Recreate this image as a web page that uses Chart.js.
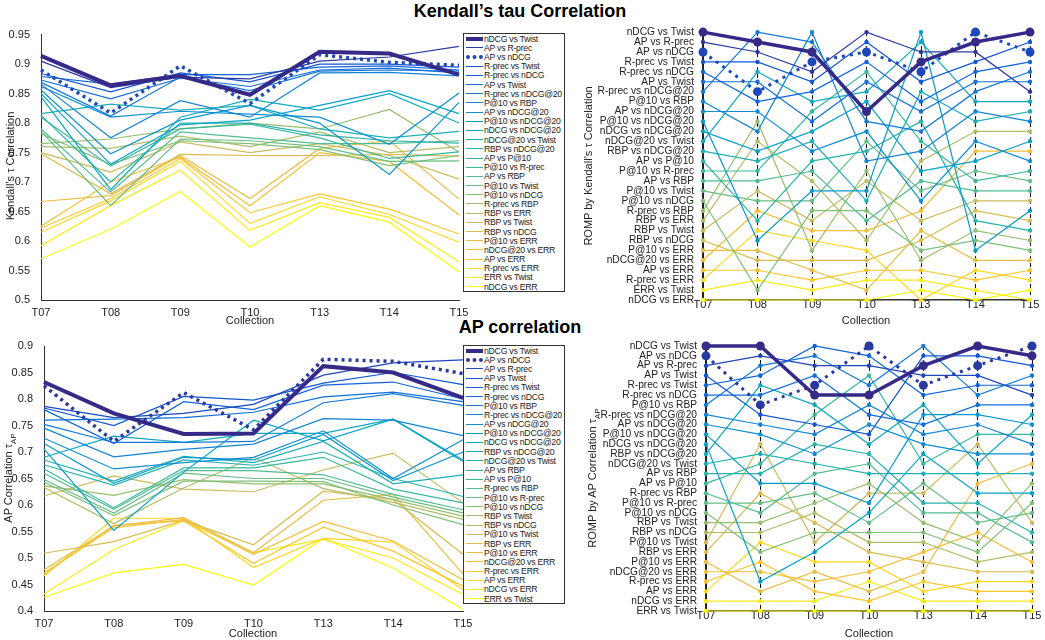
<!DOCTYPE html>
<html>
<head>
<meta charset="utf-8">
<script src="https://cdn.jsdelivr.net/npm/chart.js@4.4.1/dist/chart.umd.min.js"></script>
<style>
  body { margin: 0; background: #fff; font-family: 'Liberation Sans', Arial, sans-serif; color: #222; }
  #page { position: relative; width: 1045px; height: 640px; overflow: hidden; }
  canvas { position: absolute; }
  .title { position: absolute; width: 400px; text-align: center; font-weight: bold; font-size: 18px; color: #000; }
  .ylab { position: absolute; font-size: 11px; white-space: nowrap; transform: translate(-50%, -50%) rotate(-90deg); }
  .xlab { position: absolute; font-size: 11px; white-space: nowrap; transform: translate(-50%, -50%); }
  .legend { position: absolute; border: 1px solid #333; background: #fff; font-size: 8.7px; letter-spacing: -0.25px; padding: 0 2px 0 2px; }
  .legend .row { display: flex; align-items: center; height: 9.2px; white-space: nowrap; }
  .legend .smp { width: 17px; margin-right: 1px; }
</style>
</head>
<body>
<div id="page">
  <div class="title" style="left:320px; top:1px;">Kendall’s tau Correlation</div>
  <div class="title" style="left:320px; top:317px;">AP correlation</div>

  <canvas id="kLeft" width="480" height="302" style="left:0; top:25px;"></canvas>
  <canvas id="kRomp" width="470" height="302" style="left:575px; top:25px;"></canvas>
  <canvas id="aLeft" width="480" height="305" style="left:0; top:335px;"></canvas>
  <canvas id="aRomp" width="470" height="305" style="left:575px; top:335px;"></canvas>

  <div class="ylab" style="left:10px; top:166px;">Kendall’s τ Correlation</div>
  <div class="ylab" style="left:588px; top:166px;">ROMP by Kendall’s τ Correlation</div>
  <div class="ylab" style="left:10px; top:478px;">AP Correlation τ<sub style="font-size:8px">AP</sub></div>
  <div class="ylab" style="left:594px; top:478px;">ROMP by AP Correlation τ<sub style="font-size:8px">AP</sub></div>

  <div class="xlab" style="left:250px; top:320px;">Collection</div>
  <div class="xlab" style="left:866px; top:320px;">Collection</div>
  <div class="xlab" style="left:253px; top:633px;">Collection</div>
  <div class="xlab" style="left:869px; top:633px;">Collection</div>

  <div class="legend" id="kLegend" style="left:463px; top:33px; width:96px;"></div>
  <div class="legend" id="aLegend" style="left:463px; top:345px; width:96px;"></div>
</div>

<script>
const collections = ['T07', 'T08', 'T09', 'T10', 'T13', 'T14', 'T15'];

// measure pairs, ordered as in the legend (by T07 value)
const kendallPairs = [
  'nDCG vs Twist', 'AP vs R-prec', 'AP vs nDCG', 'R-prec vs Twist', 'R-prec vs nDCG',
  'AP vs Twist', 'R-prec vs nDCG@20', 'P@10 vs RBP', 'AP vs nDCG@20', 'P@10 vs nDCG@20',
  'nDCG vs nDCG@20', 'nDCG@20 vs Twist', 'RBP vs nDCG@20', 'AP vs P@10', 'P@10 vs R-prec',
  'AP vs RBP', 'P@10 vs Twist', 'P@10 vs nDCG', 'R-prec vs RBP', 'RBP vs ERR',
  'RBP vs Twist', 'RBP vs nDCG', 'P@10 vs ERR', 'nDCG@20 vs ERR', 'AP vs ERR',
  'R-prec vs ERR', 'ERR vs Twist', 'nDCG vs ERR'
];

const apPairs = [
  'nDCG vs Twist', 'AP vs nDCG', 'AP vs R-prec', 'AP vs Twist', 'R-prec vs Twist',
  'R-prec vs nDCG', 'P@10 vs RBP', 'R-prec vs nDCG@20', 'AP vs nDCG@20', 'P@10 vs nDCG@20',
  'nDCG vs nDCG@20', 'RBP vs nDCG@20', 'nDCG@20 vs Twist', 'AP vs RBP', 'AP vs P@10',
  'R-prec vs RBP', 'P@10 vs R-prec', 'P@10 vs nDCG', 'RBP vs Twist', 'RBP vs nDCG',
  'P@10 vs Twist', 'RBP vs ERR', 'P@10 vs ERR', 'nDCG@20 vs ERR', 'R-prec vs ERR',
  'AP vs ERR', 'nDCG vs ERR', 'ERR vs Twist'
];

// Kendall's tau per pair, one row per pair, one value per collection
const kendallTau = [
  [0.914, 0.864, 0.880, 0.848, 0.921, 0.918, 0.882],
  [0.905, 0.860, 0.878, 0.875, 0.905, 0.912, 0.930],
  [0.890, 0.817, 0.897, 0.833, 0.916, 0.903, 0.898],
  [0.884, 0.853, 0.885, 0.870, 0.900, 0.900, 0.895],
  [0.879, 0.866, 0.882, 0.882, 0.895, 0.897, 0.890],
  [0.873, 0.841, 0.876, 0.862, 0.890, 0.893, 0.885],
  [0.869, 0.812, 0.878, 0.855, 0.888, 0.890, 0.888],
  [0.866, 0.775, 0.838, 0.810, 0.885, 0.886, 0.880],
  [0.862, 0.810, 0.820, 0.815, 0.810, 0.764, 0.851],
  [0.856, 0.748, 0.805, 0.830, 0.800, 0.713, 0.835],
  [0.850, 0.730, 0.797, 0.805, 0.830, 0.855, 0.816],
  [0.845, 0.687, 0.810, 0.840, 0.822, 0.850, 0.800],
  [0.816, 0.832, 0.822, 0.830, 0.790, 0.775, 0.786],
  [0.813, 0.700, 0.800, 0.800, 0.780, 0.770, 0.766],
  [0.810, 0.727, 0.790, 0.798, 0.775, 0.740, 0.751],
  [0.790, 0.683, 0.785, 0.775, 0.765, 0.765, 0.770],
  [0.786, 0.660, 0.773, 0.770, 0.760, 0.735, 0.736],
  [0.782, 0.730, 0.770, 0.765, 0.755, 0.728, 0.745],
  [0.765, 0.773, 0.790, 0.800, 0.790, 0.823, 0.751],
  [0.760, 0.757, 0.778, 0.760, 0.785, 0.750, 0.760],
  [0.750, 0.717, 0.768, 0.750, 0.765, 0.745, 0.705],
  [0.748, 0.680, 0.747, 0.745, 0.745, 0.747, 0.744],
  [0.667, 0.677, 0.745, 0.672, 0.757, 0.770, 0.671],
  [0.625, 0.700, 0.742, 0.660, 0.750, 0.735, 0.644],
  [0.622, 0.672, 0.740, 0.648, 0.680, 0.654, 0.612],
  [0.615, 0.668, 0.735, 0.630, 0.675, 0.645, 0.598],
  [0.592, 0.660, 0.720, 0.618, 0.665, 0.640, 0.565],
  [0.570, 0.620, 0.684, 0.590, 0.660, 0.632, 0.548]
];

// AP correlation per pair
const apTau = [
  [0.832, 0.773, 0.734, 0.735, 0.862, 0.850, 0.802],
  [0.825, 0.720, 0.812, 0.742, 0.875, 0.871, 0.848],
  [0.786, 0.765, 0.773, 0.790, 0.845, 0.868, 0.874],
  [0.783, 0.750, 0.805, 0.798, 0.830, 0.850, 0.827],
  [0.780, 0.716, 0.795, 0.780, 0.826, 0.832, 0.800],
  [0.760, 0.762, 0.765, 0.775, 0.804, 0.813, 0.795],
  [0.752, 0.718, 0.718, 0.720, 0.793, 0.810, 0.788],
  [0.745, 0.691, 0.705, 0.715, 0.763, 0.760, 0.731],
  [0.726, 0.668, 0.680, 0.690, 0.740, 0.650, 0.723],
  [0.716, 0.641, 0.690, 0.685, 0.733, 0.646, 0.700],
  [0.706, 0.552, 0.662, 0.760, 0.721, 0.762, 0.685],
  [0.690, 0.730, 0.718, 0.735, 0.735, 0.762, 0.682],
  [0.685, 0.645, 0.692, 0.680, 0.720, 0.640, 0.657],
  [0.676, 0.637, 0.685, 0.675, 0.700, 0.650, 0.616],
  [0.668, 0.595, 0.670, 0.670, 0.690, 0.630, 0.604],
  [0.660, 0.592, 0.665, 0.665, 0.657, 0.620, 0.591],
  [0.648, 0.585, 0.660, 0.650, 0.650, 0.615, 0.585],
  [0.643, 0.580, 0.645, 0.645, 0.644, 0.600, 0.563],
  [0.636, 0.618, 0.648, 0.640, 0.640, 0.610, 0.579],
  [0.633, 0.565, 0.632, 0.690, 0.631, 0.605, 0.573],
  [0.617, 0.655, 0.630, 0.625, 0.666, 0.698, 0.604],
  [0.509, 0.531, 0.571, 0.525, 0.626, 0.610, 0.507],
  [0.478, 0.560, 0.576, 0.510, 0.609, 0.620, 0.470],
  [0.472, 0.557, 0.573, 0.507, 0.569, 0.532, 0.459],
  [0.469, 0.562, 0.570, 0.490, 0.558, 0.513, 0.447],
  [0.466, 0.575, 0.575, 0.482, 0.537, 0.530, 0.440],
  [0.432, 0.516, 0.570, 0.510, 0.535, 0.500, 0.431],
  [0.426, 0.472, 0.488, 0.449, 0.537, 0.481, 0.403]
];

// ROMP: which pair (1-based legend number) sits at rank 1..28 in each collection
const kendallRankOrder = [
  [1,2,3,4,5,6,7,8,9,10,11,12,13,14,15,16,17,18,19,20,21,22,23,24,25,26,27,28],
  [7,1,2,4,12,6,3,5,9,19,8,20,11,13,15,16,21,17,24,14,26,10,23,22,25,27,18,28],
  [8,7,1,3,2,4,5,12,15,6,11,13,9,14,16,20,10,17,18,21,24,26,19,22,23,25,27,28],
  [2,4,3,5,15,6,12,11,1,7,9,17,14,8,19,21,10,13,18,16,24,20,26,22,25,27,23,28],
  [10,12,2,1,3,4,13,5,6,14,7,15,8,20,11,16,17,9,24,21,23,22,18,19,25,27,28,26],
  [3,1,2,4,5,6,7,12,8,13,20,9,24,11,17,15,16,21,22,14,19,18,10,23,26,25,27,28],
  [1,4,3,5,7,6,2,12,13,8,20,11,24,9,15,17,16,21,10,22,14,19,18,23,25,26,28,27]
];

const apRankOrder = [
  [1,2,3,4,5,6,7,8,9,10,11,12,13,14,15,16,17,18,19,20,21,22,23,24,25,26,27,28],
  [1,3,7,5,12,6,2,4,8,9,21,13,15,14,10,22,17,16,19,20,26,18,25,24,11,23,27,28],
  [5,7,3,6,2,1,12,15,4,8,14,9,13,16,10,17,19,20,22,18,21,11,26,23,24,25,27,28],
  [2,5,3,15,7,1,8,6,9,4,12,14,16,13,19,21,10,11,17,18,20,22,26,24,27,23,25,28],
  [7,4,1,3,2,5,12,10,6,8,9,11,15,13,17,21,14,16,19,18,20,24,22,23,25,26,27,28],
  [1,4,2,3,5,7,6,10,8,15,21,9,12,13,23,11,14,16,17,24,19,18,20,22,26,25,27,28],
  [2,1,4,7,5,3,6,12,10,15,8,9,23,13,19,11,18,17,21,14,16,20,24,22,26,25,27,28]
];

// parula-like colour ramp
const parulaStops = ['#352a87', '#0f5cdd', '#1481d6', '#06a4ca', '#2eb7a4', '#7cbf7b', '#d1bb59', '#fdc030', '#f9fb0e'];
function parula(t) {
  const n = parulaStops.length - 1;
  const p = Math.min(Math.max(t, 0), 1) * n;
  const i = Math.min(Math.floor(p), n - 1);
  const f = p - i;
  const a = parulaStops[i], b = parulaStops[i + 1];
  const ch = (h, k) => parseInt(h.substr(1 + 2 * k, 2), 16);
  const c = [0, 1, 2].map(k => Math.round(ch(a, k) + (ch(b, k) - ch(a, k)) * f));
  return 'rgb(' + c.join(',') + ')';
}

Chart.defaults.font.family = "'Liberation Sans', Arial, sans-serif";
Chart.defaults.font.size = 11;
Chart.defaults.color = '#222';

function styleFor(labels, i) {
  const thick = i === 0;
  const dotted = labels[i] === 'AP vs nDCG';
  return { color: parula(i / (labels.length - 1)), thick, dotted };
}

function buildLegend(id, labels) {
  const box = document.getElementById(id);
  labels.forEach((lab, i) => {
    const st = styleFor(labels, i);
    const row = document.createElement('div');
    row.className = 'row';
    const smp = document.createElement('div');
    smp.className = 'smp';
    smp.style.borderTop = st.thick ? '4px solid ' + st.color
      : st.dotted ? '4px dotted ' + st.color : '1.5px solid ' + st.color;
    const txt = document.createElement('span');
    txt.textContent = lab;
    row.appendChild(smp);
    row.appendChild(txt);
    box.appendChild(row);
  });
}

function leftChart(id, labels, values, yMin, yMax, box) {
  const datasets = values.map((row, i) => {
    const st = styleFor(labels, i);
    return {
      label: labels[i],
      data: row,
      borderColor: st.color,
      borderWidth: st.thick ? 4 : st.dotted ? 3.5 : 1.2,
      borderDash: st.dotted ? [3, 4] : [],
      pointRadius: 0,
      tension: 0,
      fill: false
    };
  });
  new Chart(document.getElementById(id), {
    type: 'line',
    data: { labels: collections, datasets },
    options: {
      responsive: false,
      animation: false,
      layout: { padding: { top: box.top, right: box.right, left: 0, bottom: 0 } },
      plugins: { legend: { display: false }, tooltip: { enabled: false } },
      scales: {
        x: {
          offset: false,
          grid: { display: false },
          border: { color: '#333', width: 1 },
          ticks: { padding: -2, maxRotation: 0 },
          afterFit: s => { s.height = box.xh; }
        },
        y: {
          min: yMin, max: yMax,
          grid: { display: false },
          border: { color: '#333', width: 1 },
          ticks: { stepSize: 0.05, padding: 3, callback: v => String(+v.toFixed(2)) },
          afterFit: s => { s.width = box.yw; }
        }
      }
    }
  });
}

function rompChart(id, labels, order, box) {
  const datasets = labels.map((lab, i) => {
    const st = styleFor(labels, i);
    const big = st.thick || st.dotted;
    return {
      label: lab,
      data: order.map(col => col.indexOf(i + 1) + 1),
      borderColor: st.color,
      backgroundColor: st.color,
      pointBackgroundColor: st.color,
      pointBorderWidth: 0,
      pointRadius: big ? 4.5 : 2.2,
      borderWidth: st.thick ? 3.5 : st.dotted ? 3 : 1.2,
      borderDash: st.dotted ? [3, 5] : [],
      tension: 0,
      fill: false,
      clip: false
    };
  });
  new Chart(document.getElementById(id), {
    type: 'line',
    data: { labels: collections, datasets },
    options: {
      responsive: false,
      animation: false,
      layout: { padding: { top: box.top, right: box.right, left: 0, bottom: 0 } },
      plugins: { legend: { display: false }, tooltip: { enabled: false } },
      scales: {
        x: {
          offset: false,
          grid: { display: true, color: '#111', lineWidth: 1, drawTicks: false },
          border: { color: '#333', width: 1.5, dash: [4, 3] },
          ticks: { padding: -2, maxRotation: 0 },
          afterFit: s => { s.height = box.xh; }
        },
        y: {
          reverse: true,
          min: 1, max: labels.length,
          grid: { display: false },
          border: { color: '#222', width: 2 },
          ticks: { stepSize: 1, autoSkip: false, padding: 1, font: { size: 10.2 },
                   callback: v => labels[v - 1] },
          afterFit: s => { s.width = box.yw; }
        }
      }
    }
  });
}

buildLegend('kLegend', kendallPairs);
buildLegend('aLegend', apPairs);

leftChart('kLeft', kendallPairs, kendallTau, 0.5, 0.95, { top: 7, right: 21, xh: 27, yw: 41 });
rompChart('kRomp', kendallPairs, kendallRankOrder, { top: 7, right: 15, xh: 27, yw: 128 });
leftChart('aLeft', apPairs, apTau, 0.4, 0.9, { top: 11, right: 17, xh: 29, yw: 44 });
rompChart('aRomp', apPairs, apRankOrder, { top: 11, right: 13, xh: 29, yw: 131 });
</script>
</body>
</html>
